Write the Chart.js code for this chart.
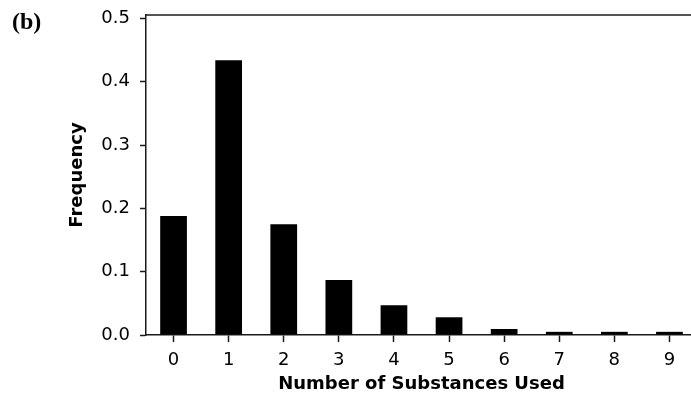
<!DOCTYPE html>
<html>
<head>
<meta charset="utf-8">
<script src="https://cdn.jsdelivr.net/npm/chart.js@4/dist/chart.umd.min.js"></script>
<style>
  html, body { margin: 0; padding: 0; background: #fff; overflow: hidden; }
  #wrap { position: relative; width: 700px; height: 398px; }
  #panel { position: absolute; left: 12px; top: 9px; font: bold 24px/1 "Liberation Serif", serif; color: #000; }
</style>
</head>
<body>
<div id="wrap">
  <canvas id="c"></canvas>
  <div id="panel">(b)</div>
</div>
<script>
// Number of substances used and the share of respondents for each count
const categories = ['0', '1', '2', '3', '4', '5', '6', '7', '8', '9'];
const frequency = [0.188, 0.434, 0.175, 0.087, 0.047, 0.028, 0.0095, 0.005, 0.005, 0.005];
const yTicks = [0, 0.1, 0.2, 0.3, 0.4, 0.5];

const axisColor = '#1a1a1a';
const plotLeft = 146;    // x of the vertical axis
const xAxisBand = 63;    // space under the plot for tick labels and title

// Frame line along the top of the plot area
const topFrame = {
  id: 'topFrame',
  afterDraw(chart) {
    const { ctx, chartArea } = chart;
    ctx.save();
    ctx.strokeStyle = axisColor;
    ctx.lineWidth = 1.5;
    ctx.beginPath();
    ctx.moveTo(chartArea.left, chartArea.top);
    ctx.lineTo(chartArea.right + 10, chartArea.top);
    ctx.stroke();
    ctx.restore();
  }
};

new Chart(document.getElementById('c'), {
  type: 'bar',
  data: {
    labels: categories,
    datasets: [{
      data: frequency,
      backgroundColor: '#000',
      borderWidth: 0,
      categoryPercentage: 1,
      barPercentage: 0.485
    }]
  },
  options: {
    responsive: true,
    maintainAspectRatio: false,
    animation: false,
    events: [],
    layout: { padding: { left: 0, right: 3, top: 15, bottom: 0 } },
    plugins: { legend: { display: false }, tooltip: { enabled: false } },
    scales: {
      x: {
        offset: true,
        afterFit(scale) { scale.height = xAxisBand; scale.paddingLeft = 0; scale.paddingRight = 0; },
        grid: { display: true, offset: false, drawOnChartArea: false, tickLength: 7, tickColor: axisColor, tickWidth: 1.5 },
        border: { display: true, color: axisColor, width: 1.5 },
        ticks: { color: '#000', font: { family: 'DejaVu Sans', size: 18 }, padding: 8, maxRotation: 0 },
        title: {
          display: true,
          text: 'Number of Substances Used',
          color: '#000',
          font: { family: 'DejaVu Sans', size: 18, weight: 'bold' },
          padding: { top: 0, bottom: 3 }
        }
      },
      y: {
        min: 0,
        max: 0.5055,
        afterBuildTicks(scale) { scale.ticks = yTicks.map(v => ({ value: v })); },
        afterFit(scale) { scale.width = plotLeft; scale.paddingTop = 0; scale.paddingBottom = 0; },
        grid: { display: true, drawOnChartArea: false, tickLength: 6, tickColor: axisColor, tickWidth: 1.5 },
        border: { display: true, color: axisColor, width: 1.5 },
        ticks: {
          color: '#000',
          font: { family: 'DejaVu Sans', size: 18 },
          padding: 10,
          callback: v => Number(v).toFixed(1)
        },
        title: {
          display: true,
          text: 'Frequency',
          color: '#000',
          font: { family: 'DejaVu Sans', size: 18, weight: 'bold' },
          padding: { top: 67, bottom: 0 }
        }
      }
    }
  },
  plugins: [topFrame]
});
</script>
</body>
</html>
